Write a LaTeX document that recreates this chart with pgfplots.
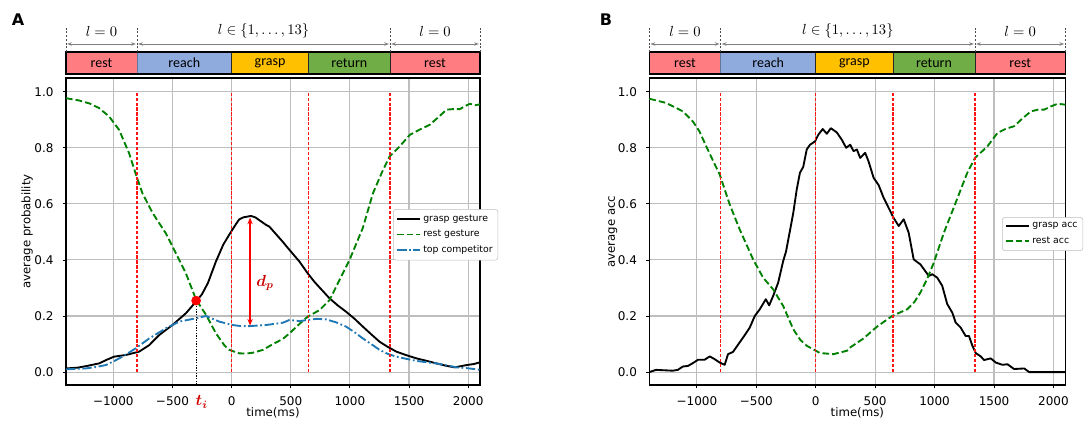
\documentclass[border=0pt]{standalone}
\usepackage{pgfplots}
\pgfplotsset{compat=1.18}
\usepackage{fontspec}
\usepackage{bm}
\setmainfont{DejaVu Sans}
\newfontfamily\carlito{Carlito}
\usetikzlibrary{arrows.meta}
\definecolor{restc}{RGB}{255,124,128}
\definecolor{reachc}{RGB}{143,170,220}
\definecolor{graspc}{RGB}{255,192,0}
\definecolor{returnc}{RGB}{112,173,71}
\definecolor{mgreen}{RGB}{0,128,0}
\definecolor{mblue}{RGB}{31,119,180}
\definecolor{gridc}{RGB}{190,190,190}
\definecolor{arrc}{RGB}{128,128,128}
\definecolor{vred}{RGB}{255,20,20}

\tikzset{phdot/.style={black!70, line width=0.7pt, dash pattern=on 1.4pt off 1.4pt},
  pharr/.style={arrc, line width=0.7pt, {Stealth[length=3.5pt,width=2.6pt]}-{Stealth[length=3.5pt,width=2.6pt]}},
  phtxt/.style={font=\carlito\fontsize{10.5}{11}\selectfont},
  vline/.style={vred, line width=1pt, dash pattern=on 2.4pt off 1.3pt}}

\newcommand{\phasebar}{%
  \draw[black!85, line width=0.6pt, fill=restc] (axis cs:-1400,1.0633) rectangle (axis cs:-800,1.1417);
  \draw[reachc!70!black, line width=0.6pt, fill=reachc] (axis cs:-800,1.0633) rectangle (axis cs:0,1.1417);
  \draw[black!85, line width=0.6pt, fill=graspc] (axis cs:0,1.0633) rectangle (axis cs:650,1.1417);
  \draw[black!85, line width=0.6pt, fill=returnc] (axis cs:650,1.0633) rectangle (axis cs:1340,1.1417);
  \draw[black!85, line width=0.6pt, fill=restc] (axis cs:1340,1.0633) rectangle (axis cs:2100,1.1417);
  \draw[black, line width=0.8pt] (axis cs:-1400,1.0633) rectangle (axis cs:2100,1.1417);
  \node[phtxt] at (axis cs:-1100,1.1025) {rest};
  \node[phtxt] at (axis cs:-400,1.1025) {reach};
  \node[phtxt] at (axis cs:325,1.1025) {grasp};
  \node[phtxt] at (axis cs:995,1.1025) {return};
  \node[phtxt] at (axis cs:1720,1.1025) {rest};
  \draw[phdot] (axis cs:-1400,1.1417) -- (axis cs:-1400,1.2309);
  \draw[phdot] (axis cs:-800,1.1417) -- (axis cs:-800,1.2309);
  \draw[phdot] (axis cs:1340,1.1417) -- (axis cs:1340,1.2309);
  \draw[phdot] (axis cs:2100,1.1417) -- (axis cs:2100,1.2309);
  \draw[pharr] (axis cs:-1390,1.1703) -- (axis cs:-810,1.1703);
  \draw[pharr] (axis cs:-790,1.1703) -- (axis cs:1330,1.1703);
  \draw[pharr] (axis cs:1350,1.1703) -- (axis cs:2090,1.1703);
  \node[font=\fontsize{11}{13}\selectfont] at (axis cs:-1100,1.2166) {$l = 0$};
  \node[font=\fontsize{11}{13}\selectfont] at (axis cs:270,1.2166) {$l \in \{1, \ldots, 13\}$};
  \node[font=\fontsize{11}{13}\selectfont] at (axis cs:1720,1.2166) {$l = 0$};
}

\pgfplotsset{myaxis/.style={
  scale only axis, height=230.25pt,
  xmin=-1400, xmax=2100, ymin=-0.046, ymax=1.049,
  xtick={-1000,-500,0,500,1000,1500,2000},
  xticklabels={−1000,−500,0,500,1000,1500,2000},
  ytick={0,0.2,0.4,0.6,0.8,1.0},
  yticklabels={0.0,0.2,0.4,0.6,0.8,1.0},
  grid=major, grid style={gridc, line width=0.8pt},
  tick align=outside, tick pos=left, major tick length=2.6pt,
  axis line style={black, line width=0.8pt},
  tick style={black, line width=0.6pt},
  ticklabel style={font=\fontsize{9}{10}\selectfont},
  xticklabel style={yshift=-2.4pt},
  yticklabel style={xshift=-3.2pt},
  clip=false,
  xlabel={time(ms)},
  label style={font=\fontsize{8.8}{10}\selectfont},
  xlabel style={at={(axis description cs:0.5,-0.091)}, anchor=center},
  legend style={font=\fontsize{7}{8.5}\selectfont, draw=gridc, rounded corners=2pt, fill=white, legend cell align=left, row sep=1.2pt, inner sep=2pt},
  every axis plot/.append style={line join=round},
}}

\begin{document}
\begin{tikzpicture}
\useasboundingbox (0,0) rectangle (813pt,318.75pt);

% ---------------- Panel A ----------------
\begin{axis}[myaxis, at={(49.5pt,30pt)}, anchor=south west, width=310.5pt,
  ylabel={average probability},
  ylabel style={at={(axis description cs:-0.094,0.5)}, anchor=center, rotate=0},
  legend style={at={(0.79,0.573)}, anchor=north west}]
\addplot[black, line width=1.4pt] coordinates {
(-1400,0.013) (-1300,0.016) (-1234,0.021) (-1121,0.031) (-1050,0.045) (-994,0.055) (-895,0.061) (-782,0.073) (-697,0.096) (-613,0.132) (-500,0.168) (-386,0.21) (-300,0.252) (-250,0.278) (-200,0.318) (-132,0.395) (-70,0.455) (-20,0.49) (37,0.528) (65,0.545) (100,0.552) (164,0.557) (200,0.552) (292,0.525) (319,0.519) (432,0.465) (489,0.436) (574,0.394) (644,0.352) (700,0.322) (828,0.263) (900,0.237) (969,0.215) (1040,0.19) (1110,0.162) (1180,0.135) (1252,0.108) (1320,0.09) (1393,0.073) (1480,0.06) (1563,0.049) (1650,0.04) (1732,0.031) (1820,0.022) (1887,0.017) (1986,0.025) (2050,0.029) (2100,0.035)};
\addlegendentry{grasp gesture}
\addplot[mgreen, line width=1.4pt, dash pattern=on 5pt off 2.3pt] coordinates {
(-1400,0.977) (-1291,0.969) (-1200,0.958) (-1121,0.942) (-1036,0.912) (-951,0.864) (-867,0.781) (-808,0.704) (-754,0.638) (-667,0.567) (-556,0.495) (-471,0.424) (-386,0.352) (-300,0.258) (-217,0.205) (-132,0.138) (-60,0.095) (-19,0.079) (65,0.067) (120,0.066) (178,0.069) (263,0.079) (350,0.1) (432,0.118) (489,0.138) (574,0.172) (644,0.198) (743,0.221) (828,0.257) (913,0.329) (997,0.4) (1110,0.515) (1195,0.638) (1280,0.721) (1336,0.769) (1421,0.805) (1506,0.846) (1590,0.865) (1675,0.882) (1750,0.91) (1817,0.936) (1870,0.938) (1930,0.938) (1970,0.948) (2014,0.957) (2060,0.952) (2100,0.955)};
\addlegendentry{rest gesture}
\addplot[mblue, line width=1.4pt, dash pattern=on 7pt off 2pt on 1.3pt off 2pt] coordinates {
(-1400,0.01) (-1234,0.013) (-1150,0.018) (-1064,0.025) (-990,0.04) (-923,0.055) (-810,0.085) (-697,0.12) (-556,0.156) (-443,0.18) (-302,0.192) (-217,0.2) (-160,0.19) (-104,0.18) (8,0.168) (80,0.164) (150,0.164) (292,0.168) (432,0.176) (489,0.186) (574,0.182) (644,0.186) (720,0.19) (800,0.188) (880,0.178) (969,0.162) (1040,0.142) (1110,0.12) (1180,0.1) (1252,0.079) (1320,0.065) (1393,0.055) (1480,0.047) (1563,0.04) (1650,0.035) (1732,0.031) (1820,0.024) (1901,0.017) (1990,0.014) (2071,0.01) (2100,0.008)};
\addlegendentry{top competitor}
\addplot[vline, forget plot] coordinates {(-800,0) (-800,1)};
\addplot[vline, forget plot] coordinates {(0,0) (0,1)};
\addplot[vline, forget plot] coordinates {(650,0) (650,1)};
\addplot[vline, forget plot] coordinates {(1340,0) (1340,1)};
\addplot[black, line width=0.8pt, dash pattern=on 1pt off 1pt, forget plot] coordinates {(-300,0.255) (-300,-0.046)};
\addplot[only marks, mark=*, mark size=3.4pt, red, forget plot] coordinates {(-300,0.255)};
\draw[red, line width=1.1pt, {Stealth[length=5pt,width=4pt]}-{Stealth[length=5pt,width=4pt]}] (axis cs:156,0.551) -- (axis cs:156,0.166);
\node[red!80!black, font=\fontsize{12}{14}\selectfont] at (axis cs:283,0.317) {$\bm{d_p}$};
\node[red!80!black, font=\fontsize{12}{14}\selectfont] at (axis cs:-253,-0.106) {$\bm{t_i}$};
\phasebar
\end{axis}

% ---------------- Panel B ----------------
\begin{axis}[myaxis, at={(487pt,30pt)}, anchor=south west, width=312pt,
  ylabel={average acc},
  ylabel style={at={(axis description cs:-0.088,0.5)}, anchor=center, rotate=0},
  legend style={at={(0.848,0.547)}, anchor=north west}]
\addplot[black, line width=1.4pt] coordinates {
(-1400,0.0) (-1343,0.008) (-1203,0.005) (-1160,0.008) (-1118,0.02) (-1075,0.022) (-1034,0.032) (-991,0.044) (-935,0.044) (-892,0.056) (-850,0.046) (-808,0.034) (-766,0.026) (-738,0.064) (-696,0.072) (-640,0.106) (-597,0.132) (-555,0.159) (-513,0.2) (-471,0.224) (-420,0.26) (-392,0.238) (-358,0.272) (-316,0.319) (-274,0.396) (-250,0.43) (-231,0.473) (-210,0.52) (-189,0.568) (-160,0.651) (-133,0.711) (-105,0.732) (-76,0.794) (-48,0.811) (-6,0.823) (22,0.847) (59,0.867) (93,0.85) (127,0.87) (177,0.855) (219,0.829) (256,0.8) (290,0.811) (318,0.788) (346,0.794) (374,0.764) (416,0.782) (444,0.752) (487,0.693) (529,0.667) (571,0.622) (613,0.586) (655,0.55) (698,0.521) (740,0.545) (782,0.497) (824,0.402) (881,0.384) (951,0.343) (980,0.349) (1022,0.337) (1064,0.308) (1106,0.243) (1149,0.212) (1177,0.177) (1219,0.159) (1261,0.129) (1289,0.129) (1318,0.094) (1346,0.068) (1388,0.056) (1416,0.043) (1472,0.049) (1515,0.034) (1571,0.026) (1613,0.028) (1669,0.011) (1754,0.013) (1796,0.0) (2100,0.0)};
\addlegendentry{grasp acc}
\addplot[mgreen, line width=1.4pt, dash pattern=on 5pt off 2.3pt] coordinates {
(-1400,0.975) (-1258,0.96) (-1118,0.93) (-1034,0.894) (-980,0.86) (-921,0.805) (-860,0.75) (-808,0.705) (-724,0.598) (-640,0.509) (-527,0.402) (-443,0.337) (-358,0.295) (-274,0.236) (-189,0.153) (-130,0.115) (-76,0.094) (36,0.068) (149,0.064) (262,0.076) (290,0.088) (402,0.12) (515,0.162) (642,0.2) (769,0.224) (830,0.25) (881,0.284) (940,0.335) (993,0.39) (1078,0.497) (1177,0.604) (1275,0.711) (1340,0.764) (1444,0.805) (1529,0.853) (1600,0.868) (1669,0.877) (1740,0.905) (1810,0.93) (1870,0.936) (1922,0.936) (1980,0.948) (2035,0.957) (2100,0.954)};
\addlegendentry{rest acc}
\addplot[vline, forget plot] coordinates {(-800,0) (-800,1)};
\addplot[vline, forget plot] coordinates {(0,0) (0,1)};
\addplot[vline, forget plot] coordinates {(650,0) (650,1)};
\addplot[vline, forget plot] coordinates {(1340,0) (1340,1)};
\phasebar
\end{axis}

\node[font=\bfseries\fontsize{12}{14}\selectfont] at (13.5pt,303.75pt) {A};
\node[font=\bfseries\fontsize{12}{14}\selectfont] at (454.5pt,303.75pt) {B};
\end{tikzpicture}
\end{document}
